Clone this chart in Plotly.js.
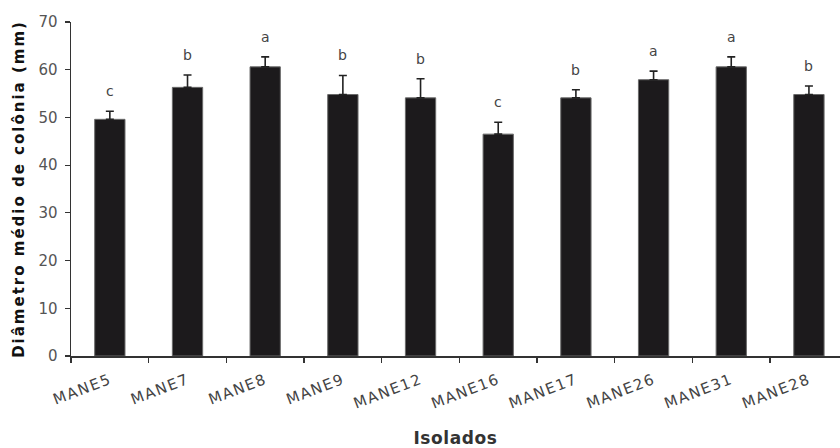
<!DOCTYPE html>
<html>
<head>
<meta charset="utf-8">
<script src="https://cdn.plot.ly/plotly-3.0.1.min.js"></script>
<style>
html,body{margin:0;padding:0;background:#fff;}
#chart{width:840px;height:448px;}
#chart .xtick text{letter-spacing:1.5px;}
#chart .g-ytitle text{letter-spacing:2px;}
#chart .g-xtitle text{letter-spacing:0.6px;}
</style>
</head>
<body>
<div id="chart"></div>
<script>
const categories = ["MANE5","MANE7","MANE8","MANE9","MANE12","MANE16","MANE17","MANE26","MANE31","MANE28"];
const means = [49.6, 56.3, 60.6, 54.8, 54.1, 46.5, 54.1, 57.9, 60.6, 54.8];
const errors = [1.7, 2.6, 2.1, 4.0, 4.0, 2.5, 1.7, 1.8, 2.1, 1.8];
const letters = ["c","b","a","b","b","c","b","a","a","b"];
const yTicks = [0,10,20,30,40,50,60,70];

const FONT = 'DejaVu Sans, Liberation Sans, Arial, sans-serif';

const trace = {
  type: 'bar',
  x: categories,
  y: means,
  width: 0.39,
  marker: {color: '#1c1a1c', line: {color: '#6a6a6a', width: 1}},
  error_y: {type: 'data', symmetric: false, array: errors, arrayminus: errors.map(() => 0),
            color: '#222', thickness: 1.6, width: 4},
  hoverinfo: 'skip'
};

const annotations = categories.map((c, i) => ({
  x: c, y: means[i] + errors[i], xref: 'x', yref: 'y',
  text: letters[i], showarrow: false, yanchor: 'bottom', yshift: 10,
  font: {family: FONT, size: 14, color: '#444'}
}));

const layout = {
  width: 840, height: 448,
  margin: {l: 71, r: 0, t: 22, b: 92},
  paper_bgcolor: '#fff', plot_bgcolor: '#fff',
  showlegend: false,
  font: {family: FONT, color: '#444'},
  xaxis: {
    type: 'category', range: [-0.5, 9.4],
    tickson: 'boundaries', ticks: 'outside', ticklen: 5, tickwidth: 1.2, tickcolor: '#333',
    showline: true, linecolor: '#333', linewidth: 1.5,
    tickangle: -21, tickfont: {family: FONT, size: 15, color: '#444'},
    ticklabelstandoff: 8,
    showgrid: false, zeroline: false, automargin: false,
    title: {text: 'Isolados', font: {size: 17, color: '#333', family: FONT, weight: 'bold'}, standoff: 26}
  },
  yaxis: {
    range: [0, 70], tickvals: yTicks, ticktext: yTicks.map(String),
    ticks: 'outside', ticklen: 5, tickwidth: 1.2, tickcolor: '#333',
    showline: true, linecolor: '#333', linewidth: 1.5,
    tickfont: {family: FONT, size: 15, color: '#555'},
    ticklabelstandoff: 4,
    showgrid: false, zeroline: false, automargin: false,
    title: {text: 'Diâmetro médio de colônia (mm)', font: {size: 15, color: '#111', family: FONT, weight: 'bold'}, standoff: 10}
  },
  annotations: annotations
};

Plotly.newPlot('chart', [trace], layout, {displayModeBar: false, staticPlot: true});
</script>
</body>
</html>
